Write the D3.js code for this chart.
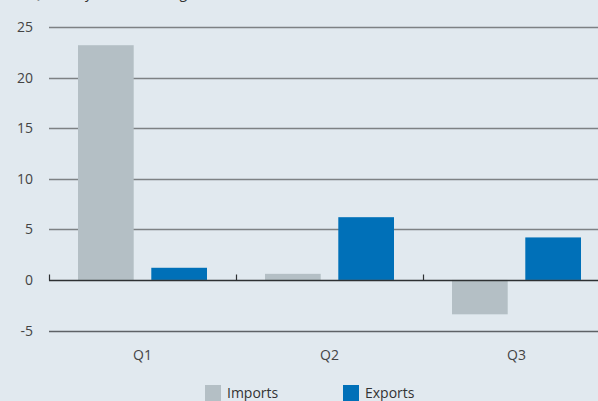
<!DOCTYPE html>
<html>
<head>
<meta charset="utf-8">
<script src="https://cdn.jsdelivr.net/npm/d3@7"></script>
<style>
  html, body { margin: 0; padding: 0; background: #e1e9ef; overflow: hidden; }
  svg { display: block; font-family: "Open Sans", "Noto Sans", sans-serif; }
</style>
</head>
<body>
<div id="chart"></div>
<script>
// datos del gráfico
const quarters = ['Q1', 'Q2', 'Q3'];
const series = ['Imports', 'Exports'];
const imports = [23.2, 0.6, -3.4];
const exports = [1.2, 6.2, 4.2];
const yTicks = [-5, 0, 5, 10, 15, 20, 25];
const colors = ['#b4bfc5', '#0070b8'];

const width = 598, height = 401;

const svg = d3.select('#chart').append('svg')
  .attr('width', width)
  .attr('height', height);

// titulo (cortado arriba en la referencia)
svg.append('text')
  .attr('x', 30)
  .attr('y', -2)
  .attr('font-size', 14)
  .attr('fill', '#333')
  .text('Quarterly volume change, %');

const y = d3.scaleLinear().domain([-5, 25]).range([330.5, 27]);
const x = d3.scaleBand().domain(quarters).range([49, 610]).padding(0);
const xSub = d3.scaleBand().domain(series).range([29, 158]).paddingInner(0.24).paddingOuter(0);

// lineas de grilla
svg.append('g')
  .selectAll('line')
  .data(yTicks.filter(d => d !== 0))
  .join('line')
  .attr('x1', 49)
  .attr('x2', width)
  .attr('y1', d => Math.round(y(d)) + 0.5)
  .attr('y2', d => Math.round(y(d)) + 0.5)
  .attr('stroke', d => d === -5 ? '#5e6266' : '#7d8184')
  .attr('stroke-width', 1.3);

// etiquetas eje Y
svg.append('g')
  .selectAll('text')
  .data(yTicks)
  .join('text')
  .attr('x', 33)
  .attr('y', d => y(d) + 5)
  .attr('text-anchor', 'end')
  .attr('font-size', 14)
  .attr('fill', '#444')
  .text(d => d);

// barras
const rows = quarters.map((q, i) => ({ q, values: [imports[i], exports[i]] }));

const groups = svg.append('g')
  .selectAll('g')
  .data(rows)
  .join('g')
  .attr('transform', d => `translate(${x(d.q)},0)`);

groups.selectAll('rect')
  .data(d => d.values.map((v, j) => ({ key: series[j], v, j })))
  .join('rect')
  .attr('x', d => xSub(d.key))
  .attr('width', xSub.bandwidth())
  .attr('y', d => y(Math.max(0, d.v)))
  .attr('height', d => Math.abs(y(d.v) - y(0)))
  .attr('fill', d => colors[d.j]);

// linea cero con marcas
const y0 = Math.round(y(0)) + 0.5;
svg.append('line')
  .attr('x1', 49).attr('x2', width)
  .attr('y1', y0).attr('y2', y0)
  .attr('stroke', '#2e3133')
  .attr('stroke-width', 1.5);

svg.append('g')
  .selectAll('line')
  .data(quarters)
  .join('line')
  .attr('x1', d => x(d) + 0.5)
  .attr('x2', d => x(d) + 0.5)
  .attr('y1', y0)
  .attr('y2', y0 - 6)
  .attr('stroke', '#2e3133')
  .attr('stroke-width', 1.2);

// etiquetas de categoria
svg.append('g')
  .selectAll('text')
  .data(quarters)
  .join('text')
  .attr('x', d => x(d) + x.bandwidth() / 2)
  .attr('y', 360)
  .attr('text-anchor', 'middle')
  .attr('font-size', 14)
  .attr('fill', '#444')
  .text(d => d);

// leyenda
const legendX = [205, 343];
const legend = svg.append('g')
  .selectAll('g')
  .data(series)
  .join('g')
  .attr('transform', (d, i) => `translate(${legendX[i]},385)`);

legend.append('rect')
  .attr('width', 16)
  .attr('height', 16)
  .attr('fill', (d, i) => colors[i]);

legend.append('text')
  .attr('x', 22)
  .attr('y', 13)
  .attr('font-size', 14)
  .attr('fill', '#333')
  .text(d => d);
</script>
</body>
</html>
